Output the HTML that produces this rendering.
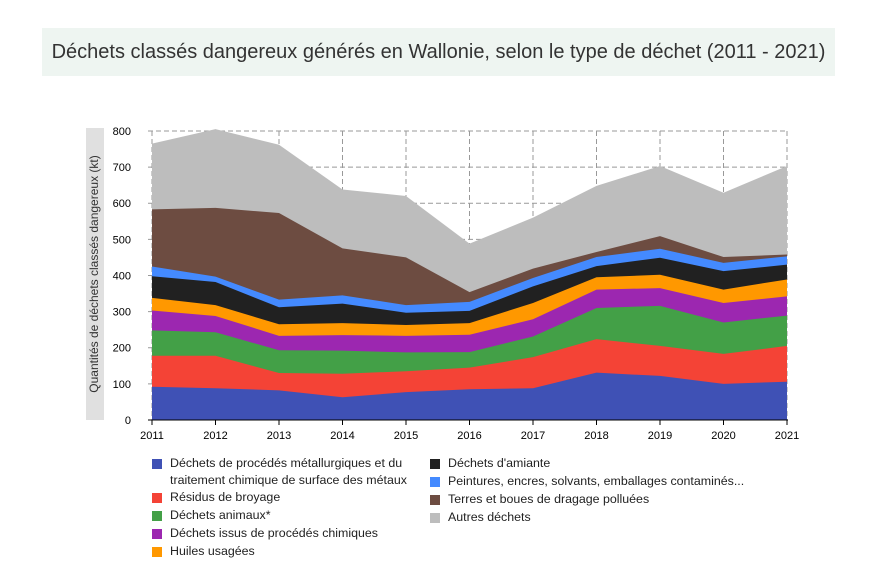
<!DOCTYPE html>
<html><head><meta charset="utf-8"><style>
body{margin:0;width:869px;height:567px;background:#fff;font-family:"Liberation Sans","DejaVu Sans",sans-serif;overflow:hidden;position:relative}
.title{position:absolute;left:42px;top:28px;width:793px;height:48px;background:#eef5f1;font-size:20px;color:#333;line-height:48px;text-align:center;white-space:nowrap}
.leg{position:absolute;font-size:12.4px;color:#222;line-height:17px;white-space:nowrap}
.leg div{position:relative;padding-left:18px;height:18px}
.leg span{position:absolute;left:0;top:4px;width:10px;height:10px}
</style></head><body>
<div class="title">Déchets classés dangereux générés en Wallonie, selon le type de déchet (2011 - 2021)</div>
<svg id="c" width="869" height="567" style="position:absolute;left:0;top:0">
<rect x="86" y="128" width="18" height="292" fill="#e0e0e0"/>
<text transform="translate(98,274) rotate(-90)" text-anchor="middle" font-size="12" fill="#333" font-family="Liberation Sans, DejaVu Sans, sans-serif">Quantités de déchets classés dangereux (kt)</text>
<g id="grid" stroke="#999" stroke-dasharray="5,3" fill="none"></g>
<g id="areas"></g>
<line x1="148" y1="420" x2="788" y2="420" stroke="#000"/>
<g id="lab" font-size="11" fill="#000" font-family="Liberation Sans, DejaVu Sans, sans-serif"></g>
</svg>
<div class="leg" style="left:152px;top:455px">
<div><span style="background:#3f51b5"></span>Déchets de procédés métallurgiques et du<br>traitement chimique de surface des métaux</div>
<div style="margin-top:16px"><span style="background:#f44336"></span>Résidus de broyage</div>
<div><span style="background:#43a047"></span>Déchets animaux*</div>
<div><span style="background:#9c27b0"></span>Déchets issus de procédés chimiques</div>
<div><span style="background:#ff9800"></span>Huiles usagées</div>
</div>
<div class="leg" style="left:430px;top:455px">
<div><span style="background:#212121"></span>Déchets d'amiante</div>
<div><span style="background:#448aff"></span>Peintures, encres, solvants, emballages contaminés...</div>
<div><span style="background:#6d4c41"></span>Terres et boues de dragage polluées</div>
<div><span style="background:#bdbdbd"></span>Autres déchets</div>
</div>
<script>
var d=[[92,178,248,303,338,398,425,583,765],[88,178,243,288,318,382,397,587,805],[82,130,193,233,265,312,333,573,762],[63,128,192,235,268,322,345,475,638],[77,135,187,233,263,297,318,450,620],[85,145,188,236,268,302,327,354,488],[88,174,231,279,324,370,393,419,560],[131,224,310,361,395,426,451,465,648],[122,205,316,365,402,449,474,509,703],[100,183,270,324,361,412,435,451,629],[106,205,289,342,389,430,453,458,703]];
var col=["#3f51b5","#f44336","#43a047","#9c27b0","#ff9800","#212121","#448aff","#6d4c41","#bdbdbd"];
function X(i){return 152+i*63.5}function Y(v){return 420-v*0.3613}
var ns="http://www.w3.org/2000/svg",A=document.getElementById("areas"),G=document.getElementById("grid"),L=document.getElementById("lab");
for(var s=8;s>=0;s--){var p="M152,420";for(var i=0;i<11;i++)p+=" L"+X(i)+","+Y(d[i][s]);p+=" L787,420Z";var e=document.createElementNS(ns,"path");e.setAttribute("d",p);e.setAttribute("fill",col[s]);A.appendChild(e);}
for(var i=0;i<11;i++){var l=document.createElementNS(ns,"line");l.setAttribute("x1",X(i));l.setAttribute("x2",X(i));l.setAttribute("y1",131);l.setAttribute("y2",420);G.appendChild(l);
var t=document.createElementNS(ns,"line");t.setAttribute("x1",X(i));t.setAttribute("x2",X(i));t.setAttribute("y1",420);t.setAttribute("y2",425);t.setAttribute("stroke","#000");L.appendChild(t);
var tx=document.createElementNS(ns,"text");tx.setAttribute("x",X(i));tx.setAttribute("y",439);tx.setAttribute("text-anchor","middle");tx.textContent=2011+i;L.appendChild(tx);}
for(var v=0;v<=800;v+=100){if(v>0){var l=document.createElementNS(ns,"line");l.setAttribute("x1",148);l.setAttribute("x2",787);l.setAttribute("y1",Y(v));l.setAttribute("y2",Y(v));G.insertBefore(l,G.firstChild);}
var tx=document.createElementNS(ns,"text");tx.setAttribute("x",131);tx.setAttribute("y",Y(v)+4);tx.setAttribute("text-anchor","end");tx.textContent=v;L.appendChild(tx);}
</script>
</body></html>
